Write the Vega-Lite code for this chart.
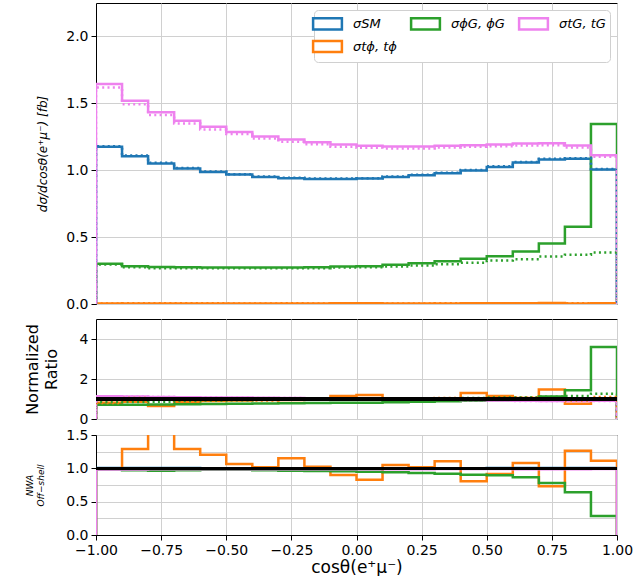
{
  "$schema": "https://vega.github.io/schema/vega-lite/v6.json",
  "padding": {"left": 23, "top": 2, "right": 0, "bottom": 0},
  "spacing": 6,
  "config": {
    "font": "DejaVu Sans",
    "view": {"stroke": "black", "strokeWidth": 1},
    "axis": {"labelFont": "DejaVu Sans", "titleFont": "DejaVu Sans", "labelColor": "black", "titleColor": "black", "domainColor": "black", "tickColor": "black", "gridColor": "#d0d0d0", "labelFontSize": 14, "tickSize": 5, "labelPadding": 3, "titleFontWeight": "normal", "labelOverlap": false}
  },
  "data": {"values": [
    {"s":"σSM","o":0,"x":-1.0,"top":0,"topn":0,"mid":0,"midn":0,"ratio":0},
    {"s":"σSM","o":1,"x":-1.0,"top":1.175,"topn":1.18,"mid":1,"midn":1,"ratio":1.004},
    {"s":"σSM","o":2,"x":-0.9,"top":1.105,"topn":1.11,"mid":1,"midn":1,"ratio":1.004},
    {"s":"σSM","o":3,"x":-0.8,"top":1.05,"topn":1.055,"mid":1,"midn":1,"ratio":1.004},
    {"s":"σSM","o":4,"x":-0.7,"top":1.0125,"topn":1.017,"mid":1,"midn":1,"ratio":1.004},
    {"s":"σSM","o":5,"x":-0.6,"top":0.9875,"topn":0.99,"mid":1,"midn":1,"ratio":1.003},
    {"s":"σSM","o":6,"x":-0.5,"top":0.9675,"topn":0.97,"mid":1,"midn":1,"ratio":1.003},
    {"s":"σSM","o":7,"x":-0.4,"top":0.95,"topn":0.953,"mid":1,"midn":1,"ratio":1.003},
    {"s":"σSM","o":8,"x":-0.3,"top":0.94,"topn":0.943,"mid":1,"midn":1,"ratio":1.003},
    {"s":"σSM","o":9,"x":-0.2,"top":0.935,"topn":0.938,"mid":1,"midn":1,"ratio":1.003},
    {"s":"σSM","o":10,"x":-0.1,"top":0.935,"topn":0.938,"mid":1,"midn":1,"ratio":1.003},
    {"s":"σSM","o":11,"x":0.0,"top":0.9375,"topn":0.94,"mid":1,"midn":1,"ratio":1.003},
    {"s":"σSM","o":12,"x":0.1,"top":0.95,"topn":0.953,"mid":1,"midn":1,"ratio":1.003},
    {"s":"σSM","o":13,"x":0.2,"top":0.9625,"topn":0.966,"mid":1,"midn":1,"ratio":1.003},
    {"s":"σSM","o":14,"x":0.3,"top":0.9775,"topn":0.981,"mid":1,"midn":1,"ratio":1.003},
    {"s":"σSM","o":15,"x":0.4,"top":0.9975,"topn":1.001,"mid":1,"midn":1,"ratio":1.003},
    {"s":"σSM","o":16,"x":0.5,"top":1.025,"topn":1.03,"mid":1,"midn":1,"ratio":1.004},
    {"s":"σSM","o":17,"x":0.6,"top":1.0575,"topn":1.062,"mid":1,"midn":1,"ratio":1.004},
    {"s":"σSM","o":18,"x":0.7,"top":1.08,"topn":1.085,"mid":1,"midn":1,"ratio":1.004},
    {"s":"σSM","o":19,"x":0.8,"top":1.085,"topn":1.09,"mid":1,"midn":1,"ratio":1.004},
    {"s":"σSM","o":20,"x":0.9,"top":1.005,"topn":1.01,"mid":1,"midn":1,"ratio":1.004},
    {"s":"σSM","o":21,"x":1.0,"top":1.005,"topn":1.01,"mid":1,"midn":1,"ratio":1.004},
    {"s":"σSM","o":22,"x":1.0,"top":0,"topn":0,"mid":0,"midn":0,"ratio":0},

    {"s":"σtϕ, tϕ","o":0,"x":-1.0,"top":0,"topn":0,"mid":0,"midn":0,"ratio":0},
    {"s":"σtϕ, tϕ","o":1,"x":-1.0,"top":0.0045,"topn":0.0045,"mid":0.81,"midn":0.8,"ratio":1.0},
    {"s":"σtϕ, tϕ","o":2,"x":-0.9,"top":0.0044,"topn":0.0057,"mid":0.86,"midn":1.05,"ratio":1.29},
    {"s":"σtϕ, tϕ","o":3,"x":-0.8,"top":0.0032,"topn":0.0051,"mid":0.65,"midn":0.98,"ratio":1.6},
    {"s":"σtϕ, tϕ","o":4,"x":-0.7,"top":0.0040,"topn":0.0052,"mid":0.85,"midn":1.04,"ratio":1.29},
    {"s":"σtϕ, tϕ","o":5,"x":-0.6,"top":0.0041,"topn":0.0050,"mid":0.9,"midn":1.02,"ratio":1.205},
    {"s":"σtϕ, tϕ","o":6,"x":-0.5,"top":0.0042,"topn":0.0045,"mid":0.93,"midn":0.95,"ratio":1.065},
    {"s":"σtϕ, tϕ","o":7,"x":-0.4,"top":0.0042,"topn":0.0043,"mid":0.95,"midn":0.92,"ratio":1.015},
    {"s":"σtϕ, tϕ","o":8,"x":-0.3,"top":0.0041,"topn":0.0047,"mid":0.95,"midn":1.04,"ratio":1.15},
    {"s":"σtϕ, tϕ","o":9,"x":-0.2,"top":0.0043,"topn":0.0044,"mid":1.0,"midn":0.98,"ratio":1.025},
    {"s":"σtϕ, tϕ","o":10,"x":-0.1,"top":0.0050,"topn":0.0045,"mid":1.15,"midn":1.0,"ratio":0.9},
    {"s":"σtϕ, tϕ","o":11,"x":0.0,"top":0.0052,"topn":0.0043,"mid":1.2,"midn":0.96,"ratio":0.83},
    {"s":"σtϕ, tϕ","o":12,"x":0.1,"top":0.0044,"topn":0.0046,"mid":1.0,"midn":1.0,"ratio":1.05},
    {"s":"σtϕ, tϕ","o":13,"x":0.2,"top":0.0044,"topn":0.0044,"mid":0.98,"midn":0.96,"ratio":1.015},
    {"s":"σtϕ, tϕ","o":14,"x":0.3,"top":0.0045,"topn":0.0050,"mid":1.0,"midn":1.05,"ratio":1.105},
    {"s":"σtϕ, tϕ","o":15,"x":0.4,"top":0.0060,"topn":0.0048,"mid":1.3,"midn":1.0,"ratio":0.805},
    {"s":"σtϕ, tϕ","o":16,"x":0.5,"top":0.0054,"topn":0.0050,"mid":1.15,"midn":1.0,"ratio":0.915},
    {"s":"σtϕ, tϕ","o":17,"x":0.6,"top":0.0051,"topn":0.0055,"mid":1.05,"midn":1.08,"ratio":1.08},
    {"s":"σtϕ, tϕ","o":18,"x":0.7,"top":0.0073,"topn":0.0053,"mid":1.47,"midn":1.02,"ratio":0.73},
    {"s":"σtϕ, tϕ","o":19,"x":0.8,"top":0.0039,"topn":0.0049,"mid":0.76,"midn":0.93,"ratio":1.265},
    {"s":"σtϕ, tϕ","o":20,"x":0.9,"top":0.0048,"topn":0.0053,"mid":1.03,"midn":1.1,"ratio":1.115},
    {"s":"σtϕ, tϕ","o":21,"x":1.0,"top":0.0048,"topn":0.0053,"mid":1.03,"midn":1.1,"ratio":1.115},
    {"s":"σtϕ, tϕ","o":22,"x":1.0,"top":0,"topn":0,"mid":0,"midn":0,"ratio":0},

    {"s":"σϕG, ϕG","o":0,"x":-1.0,"top":0,"topn":0,"mid":0,"midn":0,"ratio":0},
    {"s":"σϕG, ϕG","o":1,"x":-1.0,"top":0.3,"topn":0.295,"mid":0.71,"midn":0.852,"ratio":0.983},
    {"s":"σϕG, ϕG","o":2,"x":-0.9,"top":0.2825,"topn":0.275,"mid":0.71,"midn":0.845,"ratio":0.973},
    {"s":"σϕG, ϕG","o":3,"x":-0.8,"top":0.2775,"topn":0.2675,"mid":0.72,"midn":0.865,"ratio":0.964},
    {"s":"σϕG, ϕG","o":4,"x":-0.7,"top":0.275,"topn":0.2675,"mid":0.74,"midn":0.897,"ratio":0.973},
    {"s":"σϕG, ϕG","o":5,"x":-0.6,"top":0.2725,"topn":0.2675,"mid":0.75,"midn":0.921,"ratio":0.98},
    {"s":"σϕG, ϕG","o":6,"x":-0.5,"top":0.2725,"topn":0.2675,"mid":0.765,"midn":0.94,"ratio":0.978},
    {"s":"σϕG, ϕG","o":7,"x":-0.4,"top":0.2725,"topn":0.2675,"mid":0.78,"midn":0.957,"ratio":0.972},
    {"s":"σϕG, ϕG","o":8,"x":-0.3,"top":0.2725,"topn":0.2675,"mid":0.785,"midn":0.967,"ratio":0.965},
    {"s":"σϕG, ϕG","o":9,"x":-0.2,"top":0.275,"topn":0.2675,"mid":0.8,"midn":0.972,"ratio":0.96},
    {"s":"σϕG, ϕG","o":10,"x":-0.1,"top":0.28,"topn":0.2725,"mid":0.81,"midn":0.991,"ratio":0.955},
    {"s":"σϕG, ϕG","o":11,"x":0.0,"top":0.2825,"topn":0.275,"mid":0.815,"midn":0.998,"ratio":0.95},
    {"s":"σϕG, ϕG","o":12,"x":0.1,"top":0.2925,"topn":0.28,"mid":0.833,"midn":1.002,"ratio":0.94},
    {"s":"σϕG, ϕG","o":13,"x":0.2,"top":0.305,"topn":0.2875,"mid":0.857,"midn":1.015,"ratio":0.93},
    {"s":"σϕG, ϕG","o":14,"x":0.3,"top":0.32,"topn":0.2975,"mid":0.886,"midn":1.034,"ratio":0.92},
    {"s":"σϕG, ϕG","o":15,"x":0.4,"top":0.3375,"topn":0.3075,"mid":0.915,"midn":1.048,"ratio":0.905},
    {"s":"σϕG, ϕG","o":16,"x":0.5,"top":0.3575,"topn":0.325,"mid":0.943,"midn":1.076,"ratio":0.895},
    {"s":"σϕG, ϕG","o":17,"x":0.6,"top":0.3925,"topn":0.335,"mid":1.004,"midn":1.076,"ratio":0.865},
    {"s":"σϕG, ϕG","o":18,"x":0.7,"top":0.4525,"topn":0.355,"mid":1.13,"midn":1.116,"ratio":0.78},
    {"s":"σϕG, ϕG","o":19,"x":0.8,"top":0.5775,"topn":0.3675,"mid":1.44,"midn":1.15,"ratio":0.64},
    {"s":"σϕG, ϕG","o":20,"x":0.9,"top":1.345,"topn":0.385,"mid":3.6,"midn":1.26,"ratio":0.285},
    {"s":"σϕG, ϕG","o":21,"x":1.0,"top":1.345,"topn":0.385,"mid":3.6,"midn":1.26,"ratio":0.285},
    {"s":"σϕG, ϕG","o":22,"x":1.0,"top":0,"topn":0,"mid":0,"midn":0,"ratio":0},

    {"s":"σtG, tG","o":0,"x":-1.0,"top":0,"topn":0,"mid":0,"midn":0,"ratio":0},
    {"s":"σtG, tG","o":1,"x":-1.0,"top":1.645,"topn":1.6175,"mid":1.14,"midn":1.135,"ratio":0.983},
    {"s":"σtG, tG","o":2,"x":-0.9,"top":1.52,"topn":1.4925,"mid":1.12,"midn":1.115,"ratio":0.982},
    {"s":"σtG, tG","o":3,"x":-0.8,"top":1.4325,"topn":1.4125,"mid":1.1,"midn":1.095,"ratio":0.986},
    {"s":"σtG, tG","o":4,"x":-0.7,"top":1.37,"topn":1.35,"mid":1.09,"midn":1.085,"ratio":0.985},
    {"s":"σtG, tG","o":5,"x":-0.6,"top":1.325,"topn":1.305,"mid":1.08,"midn":1.075,"ratio":0.985},
    {"s":"σtG, tG","o":6,"x":-0.5,"top":1.285,"topn":1.27,"mid":1.07,"midn":1.065,"ratio":0.988},
    {"s":"σtG, tG","o":7,"x":-0.4,"top":1.2525,"topn":1.2375,"mid":1.06,"midn":1.055,"ratio":0.988},
    {"s":"σtG, tG","o":8,"x":-0.3,"top":1.23,"topn":1.2125,"mid":1.05,"midn":1.045,"ratio":0.986},
    {"s":"σtG, tG","o":9,"x":-0.2,"top":1.21,"topn":1.195,"mid":1.04,"midn":1.035,"ratio":0.988},
    {"s":"σtG, tG","o":10,"x":-0.1,"top":1.1925,"topn":1.175,"mid":1.025,"midn":1.02,"ratio":0.985},
    {"s":"σtG, tG","o":11,"x":0.0,"top":1.1825,"topn":1.1675,"mid":1.01,"midn":1.005,"ratio":0.987},
    {"s":"σtG, tG","o":12,"x":0.1,"top":1.1775,"topn":1.1625,"mid":0.99,"midn":0.985,"ratio":0.987},
    {"s":"σtG, tG","o":13,"x":0.2,"top":1.1775,"topn":1.1625,"mid":0.975,"midn":0.97,"ratio":0.987},
    {"s":"σtG, tG","o":14,"x":0.3,"top":1.1825,"topn":1.17,"mid":0.964,"midn":0.96,"ratio":0.989},
    {"s":"σtG, tG","o":15,"x":0.4,"top":1.1875,"topn":1.175,"mid":0.949,"midn":0.945,"ratio":0.989},
    {"s":"σtG, tG","o":16,"x":0.5,"top":1.1925,"topn":1.18,"mid":0.93,"midn":0.925,"ratio":0.99},
    {"s":"σtG, tG","o":17,"x":0.6,"top":1.2,"topn":1.185,"mid":0.91,"midn":0.905,"ratio":0.988},
    {"s":"σtG, tG","o":18,"x":0.7,"top":1.2025,"topn":1.1875,"mid":0.9,"midn":0.895,"ratio":0.988},
    {"s":"σtG, tG","o":19,"x":0.8,"top":1.185,"topn":1.17,"mid":0.9,"midn":0.895,"ratio":0.987},
    {"s":"σtG, tG","o":20,"x":0.9,"top":1.1125,"topn":1.1,"mid":0.91,"midn":0.905,"ratio":0.989},
    {"s":"σtG, tG","o":21,"x":1.0,"top":1.1125,"topn":1.1,"mid":0.91,"midn":0.905,"ratio":0.989},
    {"s":"σtG, tG","o":22,"x":1.0,"top":0,"topn":0,"mid":0,"midn":0,"ratio":0}
  ]},
  "resolve": {"scale": {"color": "independent"}, "legend": {"color": "independent"}},
  "vconcat": [
    {
      "width": 521, "height": 301,
      "encoding": {
        "x": {"field": "x", "type": "quantitative", "scale": {"domain": [-1, 1], "nice": false, "zero": false},
              "axis": {"values": [-1, -0.75, -0.5, -0.25, 0, 0.25, 0.5, 0.75, 1], "labels": false, "ticks": false, "domain": false, "title": null, "grid": true}},
        "color": {"field": "s", "type": "nominal",
                  "scale": {"domain": ["σSM", "σtG, tG", "σϕG, ϕG", "σtϕ, tϕ"], "range": ["#1f77b4", "#ee82ee", "#2ca02c", "#ff7f0e"]},
                  "legend": {"orient": "top-right", "offset": 7, "columns": 3, "title": null,
                             "symbolType": "M-1.8,-0.7H1.8V0.7H-1.8Z", "symbolSize": 256, "symbolStrokeWidth": 2.5, "symbolFillColor": "white",
                             "labelFont": "DejaVu Sans", "labelFontSize": 13, "labelFontStyle": "italic", "labelColor": "black", "labelLimit": 200,
                             "fillColor": "white", "strokeColor": "#d0d0d0", "cornerRadius": 4, "padding": 4, "rowPadding": 0, "columnPadding": 9, "labelOffset": 16}},
        "order": {"field": "o", "type": "quantitative"}
      },
      "layer": [
        {
          "mark": {"type": "line", "interpolate": "step-after", "strokeWidth": 2.5, "clip": true},
          "encoding": {
            "y": {"field": "top", "type": "quantitative", "scale": {"domain": [0, 2.25], "nice": false},
                  "axis": {"values": [0, 0.5, 1, 1.5, 2], "format": ".1f", "grid": true, "labelOverlap": false, "title": "dσ/dcosθ(e⁺μ⁻) [fb]", "titleFontSize": 12, "titleFontStyle": "italic", "titlePadding": 16}}
          }
        },
        {
          "mark": {"type": "line", "interpolate": "step-after", "strokeWidth": 2.5, "strokeDash": [2, 3.3], "clip": true},
          "encoding": {
            "y": {"field": "topn", "type": "quantitative"}
          }
        }
      ]
    },
    {
      "spacing": 0,
      "vconcat": [
        {
          "width": 521, "height": 100,
          "encoding": {
            "x": {"field": "x", "type": "quantitative", "scale": {"domain": [-1, 1], "nice": false, "zero": false},
                  "axis": {"values": [-1, -0.75, -0.5, -0.25, 0, 0.25, 0.5, 0.75, 1], "labels": false, "ticks": false, "domain": false, "title": null, "grid": true}},
            "color": {"field": "s", "type": "nominal",
                      "scale": {"domain": ["σSM", "σtG, tG", "σϕG, ϕG", "σtϕ, tϕ"], "range": ["#1f77b4", "#ee82ee", "#2ca02c", "#ff7f0e"]},
                      "legend": null},
            "order": {"field": "o", "type": "quantitative"}
          },
          "layer": [
            {
              "mark": {"type": "line", "interpolate": "step-after", "strokeWidth": 2.5, "clip": true},
              "encoding": {
                "y": {"field": "mid", "type": "quantitative", "scale": {"domain": [0, 5], "nice": false},
                      "axis": {"values": [0, 2, 4], "format": "d", "grid": true, "labelOverlap": false, "title": ["Normalized", "Ratio"], "titleFontSize": 16, "titleLineHeight": 19, "titlePadding": 20}}
              }
            },
            {
              "mark": {"type": "line", "interpolate": "step-after", "strokeWidth": 2.5, "strokeDash": [2, 3.3], "clip": true},
              "encoding": {
                "y": {"field": "midn", "type": "quantitative"}
              }
            },
            {
              "mark": {"type": "rule", "color": "black", "strokeWidth": 2.5},
              "encoding": {"y": {"datum": 1}, "x": null, "color": null, "order": null}
            }
          ]
        },
        {
          "width": 521, "height": 100,
          "resolve": {"axis": {"y": "independent"}},
          "encoding": {
            "x": {"field": "x", "type": "quantitative", "scale": {"domain": [-1, 1], "nice": false, "zero": false},
                  "axis": {"values": [-1, -0.75, -0.5, -0.25, 0, 0.25, 0.5, 0.75, 1], "format": ".2f", "grid": true, "labelOverlap": false, "title": "cosθ(e⁺μ⁻)", "titleFontSize": 17, "titlePadding": 2, "labelFlush": false}},
            "color": {"field": "s", "type": "nominal",
                      "scale": {"domain": ["σSM", "σtG, tG", "σϕG, ϕG", "σtϕ, tϕ"], "range": ["#1f77b4", "#ee82ee", "#2ca02c", "#ff7f0e"]},
                      "legend": null},
            "order": {"field": "o", "type": "quantitative"}
          },
          "layer": [
            {
              "mark": {"type": "line", "interpolate": "step-after", "strokeWidth": 2.5, "clip": true},
              "encoding": {
                "y": {"field": "ratio", "type": "quantitative", "scale": {"domain": [0, 1.5], "nice": false},
                      "axis": {"values": [0, 0.5, 1, 1.5], "format": ".1f", "labelOverlap": false, "grid": true, "title": ["NWA", "Off−shell"], "titleFontSize": 9, "titleFontStyle": "italic", "titleLineHeight": 11, "titlePadding": 20}}
              }
            },
            {
              "mark": {"type": "rule", "color": "black", "strokeWidth": 2.5},
              "encoding": {"y": {"datum": 1, "axis": {"orient": "right", "values": [0.25, 0.75, 1.25], "labels": false, "ticks": false, "domain": false, "grid": true, "title": null}}, "x": null, "color": null, "order": null}
            }
          ]
        }
      ]
    }
  ]
}
